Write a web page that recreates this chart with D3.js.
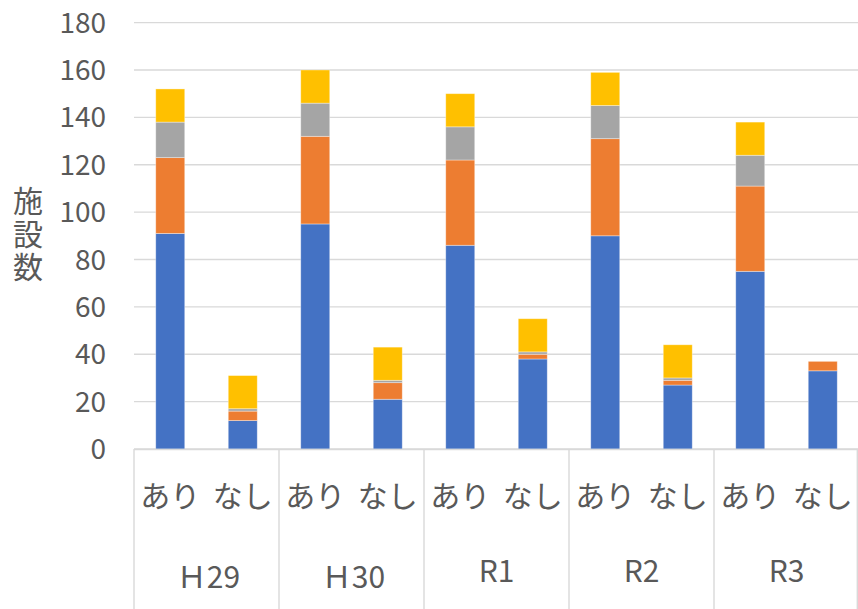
<!DOCTYPE html>
<html>
<head>
<meta charset="utf-8">
<script src="https://cdn.jsdelivr.net/npm/d3@7"></script>
<style>
  html, body { margin: 0; padding: 0; background: #fff; }
  svg { display: block; font-family: "Noto Sans CJK JP", "Noto Sans", sans-serif; }
</style>
</head>
<body>
<svg id="chart" width="858" height="609"></svg>
<script>
// Fiscal years and the two sub-categories under each year
const years = ["Ｈ29", "Ｈ30", "R1", "R2", "R3"];
const subCats = ["あり", "なし"];

// Stacked segment values, ordered year by year: [あり, なし, あり, なし, ...]
const series1 = [91, 12, 95, 21, 86, 38, 90, 27, 75, 33];
const series2 = [32, 4, 37, 7, 36, 2, 41, 2, 36, 4];
const series3 = [15, 1, 14, 1, 14, 1, 14, 1, 13, 0];
const series4 = [14, 14, 14, 14, 14, 14, 14, 14, 14, 0];

const yTicks = [0, 20, 40, 60, 80, 100, 120, 140, 160, 180];
const yTitle = "施設数";

const colors = ["#4472C4", "#ED7D31", "#A5A5A5", "#FFC000"];
const textColor = "#595959";
const gridColor = "#d9d9d9";

const svg = d3.select("#chart");
const W = 858, H = 609;
const plot = { left: 134, right: 859, top: 22.6, bottom: 449 };

// One row per bar, keyed so that the stack generator can read it
const rows = [];
years.forEach((yr, i) => {
  subCats.forEach((sc, j) => {
    const k = i * subCats.length + j;
    rows.push({ id: yr + "|" + sc, year: yr, sub: sc,
      s1: series1[k], s2: series2[k], s3: series3[k], s4: series4[k] });
  });
});

const keys = ["s1", "s2", "s3", "s4"];
const stacked = d3.stack().keys(keys)(rows);

const x = d3.scaleBand()
  .domain(rows.map(d => d.id))
  .range([plot.left, plot.right])
  .paddingInner(0.6)
  .paddingOuter(0.3);

const y = d3.scaleLinear()
  .domain([0, 180])
  .range([plot.bottom, plot.top]);

// Horizontal gridlines
svg.append("g")
  .selectAll("line")
  .data(yTicks)
  .join("line")
  .attr("x1", plot.left)
  .attr("x2", W)
  .attr("y1", d => y(d))
  .attr("y2", d => y(d))
  .attr("stroke", gridColor)
  .attr("stroke-width", 1.4);

// Value axis labels
const yAxis = d3.axisLeft(y).tickValues(yTicks).tickSize(0).tickPadding(0);
const yg = svg.append("g")
  .attr("transform", `translate(106,0)`)
  .call(yAxis);
yg.select(".domain").remove();
yg.selectAll("text")
  .attr("fill", textColor)
  .attr("font-size", 28)
  .attr("font-family", "'Noto Sans CJK JP', sans-serif")
  .attr("dy", "0.34em");

// Stacked bars
svg.append("g")
  .selectAll("g")
  .data(stacked)
  .join("g")
  .attr("fill", (d, i) => colors[i])
  .selectAll("rect")
  .data(d => d)
  .join("rect")
  .attr("x", d => x(d.data.id))
  .attr("width", x.bandwidth())
  .attr("y", d => y(d[1]))
  .attr("height", d => Math.max(0, y(d[0]) - y(d[1])))
  .attr("stroke", "#ffffff")
  .attr("stroke-opacity", 0.45)
  .attr("stroke-width", 0.8);

// Category axis: baseline and group separators
const axisG = svg.append("g");
axisG.append("line")
  .attr("x1", plot.left).attr("x2", W)
  .attr("y1", y(0) + 0.5).attr("y2", y(0) + 0.5)
  .attr("stroke", gridColor).attr("stroke-width", 1.4);

const step = x.step();
const groupWidth = step * subCats.length;
const sepX = d3.range(years.length + 1).map(i => plot.left + i * groupWidth);
axisG.selectAll(".sep")
  .data(sepX)
  .join("line")
  .attr("class", "sep")
  .attr("x1", d => Math.min(d, W - 0.7))
  .attr("x2", d => Math.min(d, W - 0.7))
  .attr("y1", y(0))
  .attr("y2", H)
  .attr("stroke", gridColor)
  .attr("stroke-width", 1.4);

// Sub-category labels under each bar
axisG.selectAll(".sub")
  .data(rows)
  .join("text")
  .attr("class", "sub")
  .attr("x", d => x(d.id) + x.bandwidth() / 2)
  .attr("y", 496)
  .attr("dy", "0.36em")
  .attr("text-anchor", "middle")
  .attr("fill", textColor)
  .attr("font-size", 30)
  .text(d => d.sub);

// Year labels centred in each group
axisG.selectAll(".yr")
  .data(years)
  .join("text")
  .attr("class", "yr")
  .attr("x", (d, i) => plot.left + (i + 0.5) * groupWidth + (/[^\x00-\x7F]/.test(d) ? 2 : 0))
  .attr("y", d => /[^\x00-\x7F]/.test(d) ? 577.5 : 571)
  .attr("dy", "0.35em")
  .attr("text-anchor", "middle")
  .attr("fill", textColor)
  .attr("font-size", 30)
  .text(d => d);

// Vertical axis title, set top-to-bottom
svg.append("text")
  .attr("x", 28)
  .attr("y", 186)
  .attr("fill", textColor)
  .attr("font-size", 30)
  .style("writing-mode", "vertical-rl")
  .style("text-orientation", "upright")
  .style("letter-spacing", "3px")
  .text(yTitle);
</script>
</body>
</html>
